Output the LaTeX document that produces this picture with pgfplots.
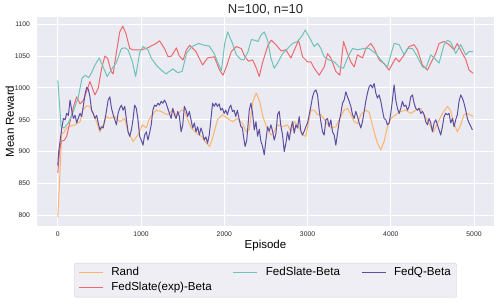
\documentclass[border=0pt]{standalone}
\usepackage{pgfplots}
\pgfplotsset{compat=1.18}
\usepackage{pgfplotstable}
\usepackage{fontspec}
\setmainfont{Liberation Sans}
\definecolor{bg}{HTML}{EAEAF2}
\definecolor{legbg}{HTML}{EEEEF4}
\definecolor{legedge}{HTML}{CFCFD6}
\definecolor{crand}{HTML}{FDB46B}
\definecolor{cexp}{HTML}{EE6A6E}
\definecolor{cslate}{HTML}{6EC3B8}
\definecolor{cq}{HTML}{5E4FA2}

\pgfplotstableread{
x y
0 797
30 880
48 930
68 929
107 937
147 940
207 942
267 947
298 965
346 972
386 971
426 958
466 947
505 931
545 942
585 955
625 952
684 955
744 947
804 952
844 931
903 916
963 926
1015 942
1063 937
1102 952
1182 965
1242 963
1282 960
1325 958
1385 966
1425 955
1481 965
1520 965
1560 950
1604 937
1664 929
1724 924
1784 913
1824 908
1859 921
1918 950
1978 958
2038 952
2098 947
2157 952
2217 944
2264 931
2300 935
2344 979
2384 992
2424 979
2464 955
2520 934
2560 926
2600 931
2640 942
2700 939
2760 942
2800 931
2840 947
2880 942
2940 926
2980 924
3040 965
3080 965
3120 958
3160 958
3220 947
3280 937
3340 939
3380 950
3440 965
3480 968
3520 958
3560 947
3600 944
3640 958
3700 965
3740 962
3800 931
3840 913
3880 903
3920 916
3960 939
4000 952
4060 958
4120 963
4180 965
4240 960
4300 965
4360 968
4400 958
4460 944
4512 931
4560 944
4620 960
4680 971
4720 964
4760 944
4800 931
4840 942
4880 958
4920 960
4990 955
}\rand

\pgfplotstableread{
x y
0 866
20 900
40 916
80 918
107 924
147 947
187 970
227 986
267 975
306 980
346 995
386 1010
446 989
486 1000
525 1030
565 1050
600 1046
640 1026
665 1022
705 1057
744 1088
780 1097
820 1085
864 1062
903 1060
943 1060
1003 1060
1063 1062
1122 1066
1182 1070
1222 1074
1282 1062
1325 1049
1365 1050
1425 1063
1460 1050
1505 1044
1545 1060
1585 1067
1660 1057
1739 1036
1799 1047
1879 1049
1944 1028
1984 1020
2030 1035
2084 1057
2144 1065
2204 1062
2244 1050
2290 1042
2340 1044
2385 1031
2420 1018
2460 1040
2524 1067
2564 1075
2620 1068
2684 1058
2740 1060
2800 1047
2860 1065
2892 1075
2940 1049
3000 1041
3040 1041
3080 1031
3140 1020
3200 1033
3240 1054
3280 1047
3340 1026
3388 1020
3432 1073
3480 1054
3520 1041
3560 1033
3600 1052
3660 1047
3700 1062
3760 1070
3800 1062
3860 1044
3920 1038
3980 1028
4020 1038
4060 1047
4100 1041
4160 1052
4220 1065
4280 1068
4320 1060
4380 1036
4440 1028
4500 1044
4540 1054
4580 1070
4640 1073
4700 1068
4760 1060
4800 1070
4860 1054
4900 1045
4940 1028
4990 1023
}\fexp

\pgfplotstableread{
x y
0 1012
40 939
76 937
127 945
187 963
247 986
290 1015
330 1020
370 1016
406 1024
446 1036
497 1047
545 1033
593 1018
645 1029
704 1040
764 1062
804 1063
844 1060
896 1041
935 1018
983 1055
1023 1065
1083 1060
1122 1047
1182 1036
1242 1028
1301 1022
1341 1026
1381 1030
1441 1024
1493 1026
1548 1055
1612 1065
1692 1070
1759 1067
1819 1066
1879 1054
1938 1035
1965 1027
2005 1070
2040 1088
2098 1070
2145 1052
2197 1045
2235 1044
2285 1057
2325 1076
2365 1075
2405 1073
2440 1083
2480 1088
2520 1075
2560 1047
2600 1031
2640 1039
2700 1054
2760 1062
2820 1070
2880 1073
2940 1083
2972 1091
3020 1080
3080 1065
3120 1070
3160 1062
3200 1049
3260 1044
3320 1041
3380 1033
3432 1031
3480 1047
3540 1062
3600 1060
3680 1062
3740 1062
3820 1054
3900 1041
3960 1033
4000 1052
4040 1070
4100 1068
4160 1052
4200 1062
4260 1062
4320 1049
4380 1033
4420 1031
4480 1052
4530 1046
4580 1039
4640 1068
4680 1075
4720 1072
4780 1054
4840 1068
4900 1052
4940 1057
4990 1057
}\fslate

\pgfplotstableread{
x y
0 878
8 897
48 937
68 952
88 950
107 960
127 957
147 981
167 965
187 952
207 957
227 945
247 953
267 960
287 955
306 971
326 989
346 1001
366 998
386 986
406 965
426 960
446 952
466 957
486 945
505 934
525 939
545 937
577 958
605 981
625 986
645 968
665 958
685 950
704 942
724 960
744 968
764 973
784 965
804 971
824 950
844 931
864 924
884 934
903 950
923 973
943 968
963 950
983 924
1003 918
1023 910
1043 926
1063 931
1083 918
1102 929
1122 942
1142 965
1162 973
1182 971
1202 976
1222 973
1242 979
1262 976
1282 981
1301 976
1321 968
1341 960
1361 952
1381 968
1401 958
1421 952
1441 963
1461 955
1481 931
1501 942
1520 971
1540 965
1560 955
1580 963
1600 950
1620 937
1640 945
1660 931
1680 939
1700 926
1720 937
1740 929
1759 918
1779 923
1799 913
1819 926
1839 950
1859 976
1879 971
1898 976
1918 971
1938 975
1958 965
1978 968
1998 960
2018 965
2038 958
2058 968
2078 973
2098 963
2117 965
2137 955
2157 965
2177 952
2197 940
2217 937
2237 918
2250 908
2270 918
2300 965
2320 976
2340 960
2360 934
2380 947
2400 924
2420 935
2440 916
2460 908
2480 895
2500 918
2520 939
2540 932
2560 942
2580 932
2600 918
2620 928
2640 958
2660 963
2680 940
2700 926
2720 900
2740 913
2760 931
2780 918
2800 936
2820 947
2840 929
2860 942
2880 937
2900 955
2920 932
2940 926
2960 932
2980 939
3000 945
3020 958
3040 971
3060 986
3080 994
3100 997
3120 989
3140 965
3160 947
3180 931
3200 926
3220 950
3240 952
3260 939
3280 950
3300 931
3320 926
3340 910
3360 929
3380 947
3400 960
3420 976
3440 981
3460 994
3480 986
3500 979
3520 971
3540 958
3560 952
3580 963
3600 955
3620 945
3640 937
3660 947
3680 963
3700 979
3720 992
3740 1002
3760 1005
3780 1000
3800 1007
3820 992
3840 984
3860 989
3880 979
3900 965
3920 952
3940 950
3960 942
3980 945
4000 960
4020 981
4040 1005
4060 981
4080 968
4100 960
4120 968
4140 979
4160 971
4180 973
4200 965
4220 971
4240 986
4260 989
4280 976
4300 968
4320 965
4340 968
4360 960
4380 963
4400 958
4420 947
4440 942
4460 952
4480 945
4500 931
4520 945
4540 950
4560 942
4580 934
4600 926
4620 939
4640 955
4660 960
4680 958
4700 960
4720 945
4740 952
4760 939
4780 950
4800 958
4820 979
4840 989
4860 984
4880 976
4900 965
4920 952
4940 945
4960 940
4980 934
}\fq

\begin{document}
\begin{tikzpicture}[x=1pt,y=1pt]
\useasboundingbox (-37,-79) rectangle (461,226);
\begin{axis}[
  at={(0,0)}, anchor=south west,
  scale only axis, width=457pt, height=209pt,
  xmin=-250, xmax=5240, ymin=783, ymax=1111.5,
  axis background/.style={fill=bg},
  axis line style={draw=none},
  grid=major, grid style={white, line width=0.9pt},
  major tick length=0pt,
  xtick={0,1000,...,5000}, ytick={800,850,...,1100},
  /pgf/number format/assume math mode=true,
  /pgf/number format/1000 sep={},
  tick label style={font=\fontsize{6.8}{8}\selectfont, text=black!85},
  yticklabel style={xshift=-3.5pt},
  xticklabel style={yshift=-2.5pt},
  xlabel={Episode}, ylabel={Mean Reward},
  xlabel style={at={(axis description cs:0.5,0)}, anchor=base, yshift=-23pt, font=\fontsize{11.5}{13}\selectfont},
  ylabel style={at={(axis description cs:0,0.5)}, anchor=base, yshift=23pt, font=\fontsize{11.5}{13}\selectfont},
  legend columns=3,
  legend cell align=left,
  legend image code/.code={\draw[#1] (0pt,0pt) -- (24pt,0pt);},
  legend style={at={(axis description cs:0.5,0)}, anchor=north, yshift=-37pt,
    font=\fontsize{11.6}{13}\selectfont, fill=legbg, draw=legedge, rounded corners=2pt,
    inner xsep=4pt, inner ysep=2pt,
    nodes={inner sep=2pt, text height=8.5pt, text depth=2.5pt},
    /tikz/every odd column/.append style={column sep=6pt},
    /tikz/every even column/.append style={column sep=19pt}},
  every axis plot/.append style={line width=1pt, line join=round},
]
\addplot[crand, forget plot] table[x=x,y=y] {\rand};
\addplot[cexp, forget plot] table[x=x,y=y] {\fexp};
\addplot[cslate, forget plot] table[x=x,y=y] {\fslate};
\addplot[cq, forget plot] table[x=x,y=y] {\fq};
\addlegendimage{crand, line width=1pt}
\addlegendentry{Rand}
\addlegendimage{cslate, line width=1pt}
\addlegendentry{FedSlate-Beta}
\addlegendimage{cq, line width=1pt}
\addlegendentry{FedQ-Beta}
\addlegendimage{cexp, line width=1pt}
\addlegendentry{FedSlate(exp)-Beta}
\end{axis}
\node[anchor=base, font=\fontsize{13}{15}\selectfont, text=black!85] at (228.5,212.7) {N=100, n=10};
\end{tikzpicture}
\end{document}
